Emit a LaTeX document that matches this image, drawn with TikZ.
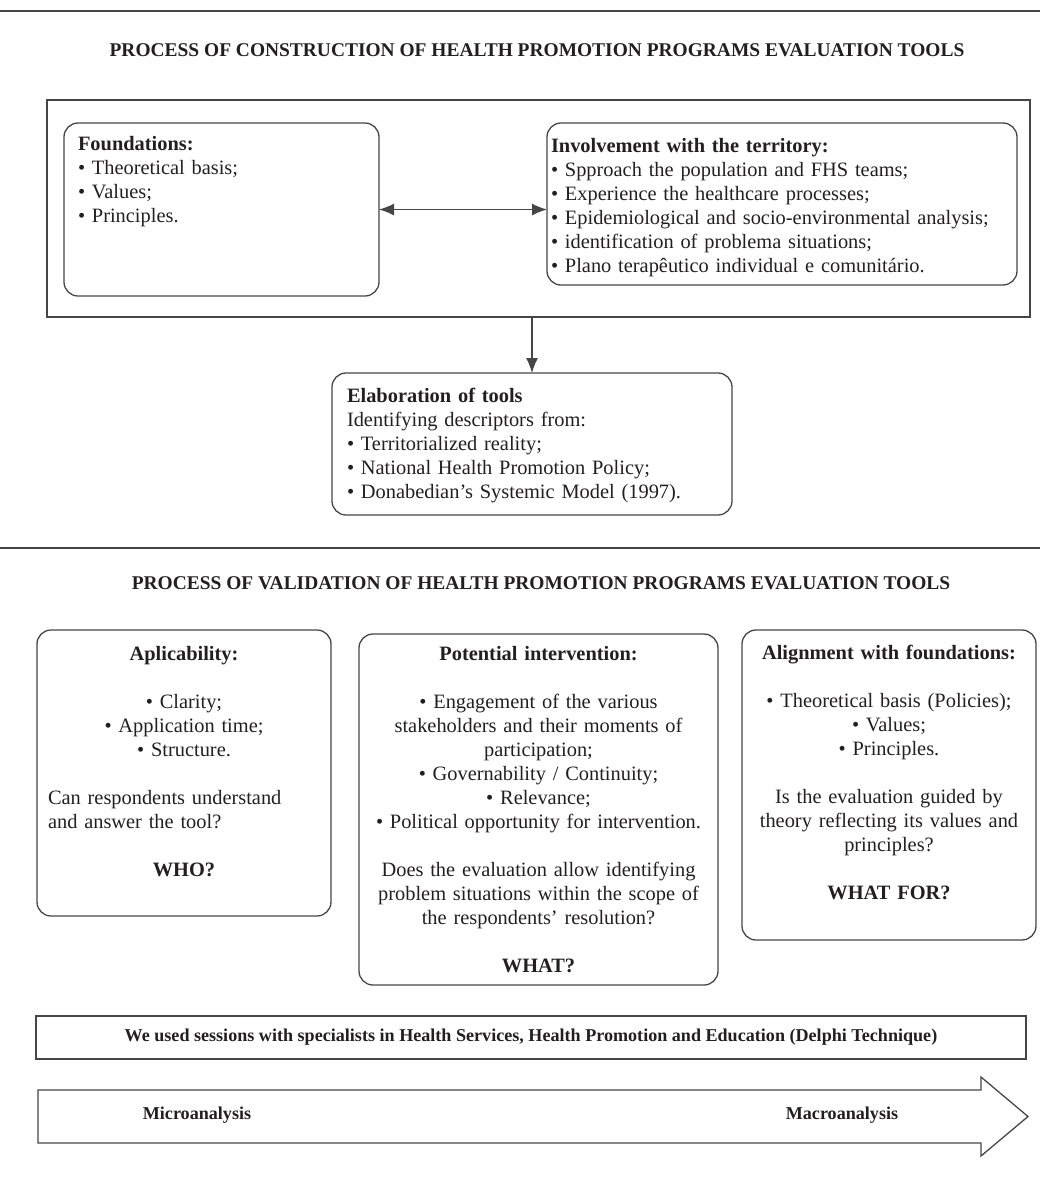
\documentclass[tikz,border=0pt]{standalone}
\usepackage{fontspec}
\setmainfont{Liberation Serif}
\usepackage{tikz}
\usetikzlibrary{arrows.meta}
\definecolor{ink}{RGB}{35,31,32}
\definecolor{rule}{RGB}{70,70,70}

\begin{document}
\begin{tikzpicture}[x=0.5pt, y=-0.5pt, >={Latex[length=7.5pt,width=6pt]},
	every node/.style={text=ink, font=\fontsize{10.2}{12}\selectfont},
	line/.style={draw=rule, line width=0.65pt},
	roundbox/.style={line, rounded corners=7pt, anchor=north west, outer sep=0pt, inner ysep=3.4pt},
	heading/.style={font=\fontsize{9.72}{11}\selectfont\bfseries},
	smallbold/.style={font=\fontsize{9.05}{10}\selectfont\bfseries}]
	\useasboundingbox (0,0) rectangle (1040,1180);
	
	\draw[line] (0,11) -- (1040,11);
	\node[heading] (title1) at (537,50) {PROCESS OF CONSTRUCTION OF HEALTH PROMOTION PROGRAMS EVALUATION TOOLS};
	
	\node[line, anchor=north west, minimum width=491.5pt, minimum height=108.5pt, inner sep=0pt, outer sep=0pt] (frame) at (47,100) {};
	\node[roundbox, align=left, text width=143.5pt, inner xsep=7pt, text height=10.5pt, text depth=69.2pt] (found) at (64,123) {\textbf{Foundations:}\\• Theoretical basis;\\• Values;\\• Principles.};
	\node[roundbox, align=left, text width=231pt, inner xsep=2pt, text height=11.5pt, text depth=62.7pt] (invol) at (547,123) {\textbf{Involvement with the territory:}\\• Spproach the population and FHS teams;\\• Experience the healthcare processes;\\• Epidemiological and socio-environmental analysis;\\• identification of problema situations;\\• Plano terapêutico individual e comunitário.};
	\node[roundbox, align=left, text width=185pt, inner xsep=7.5pt, text height=11.5pt, text depth=52.7pt] (elab) at (332,373) {\textbf{Elaboration of tools}\\Identifying descriptors from:\\• Territorialized reality;\\• National Health Promotion Policy;\\• Donabedian’s Systemic Model (1997).};
	
	\draw[<->, line] (found.east) -- (found.east -| invol.west);
	\draw[->, line] (elab.north |- frame.south) -- (elab.north);
	
	\draw[line] (0,548) -- (1040,548);
	\node[heading] (title2) at (541,583) {PROCESS OF VALIDATION OF HEALTH PROMOTION PROGRAMS EVALUATION TOOLS};
	
	\node[roundbox, align=center, text width=136pt, inner xsep=5.5pt, text height=12pt, text depth=124.2pt] (appl) at (37,630) {\textbf{Aplicability:}\\[12pt]• Clarity;\\• Application time;\\• Structure.\\[12pt]\makebox[136pt][l]{Can respondents understand}\\\makebox[136pt][l]{and answer the tool?}\\[12pt]\textbf{WHO?}};
	\node[roundbox, align=center, text width=171.5pt, inner xsep=4pt, text height=10pt, text depth=158.7pt] (poten) at (359,634) {\textbf{Potential intervention:}\\[12pt]• Engagement of the various\\stakeholders and their moments of\\participation;\\• Governability / Continuity;\\• Relevance;\\• Political opportunity for intervention.\\[12pt]Does the evaluation allow identifying\\problem situations within the scope of\\the respondents’ resolution?\\[12pt]\textbf{WHAT?}};
	\node[roundbox, align=center, text width=137pt, inner xsep=5pt, text height=11.5pt, text depth=136.7pt] (align) at (742,630) {\textbf{Alignment with foundations:}\\[12pt]• Theoretical basis (Policies);\\• Values;\\• Principles.\\[12pt]Is the evaluation guided by\\theory reflecting its values and\\principles?\\[12pt]\textbf{WHAT FOR?}};
	
	\node[line, smallbold, minimum width=495pt, minimum height=21.5pt, inner sep=0pt] (delphi) at (531,1037.5) {We used sessions with specialists in Health Services, Health Promotion and Education (Delphi Technique)};
	
	\draw[line] (38,1090) -- (981,1090) -- (981,1077) -- (1028,1116.5) -- (981,1156) -- (981,1143) -- (38,1143) -- cycle;
	\node[smallbold] (micro) at (197,1115) {Microanalysis};
	\node[smallbold] (macro) at (842,1115) {Macroanalysis};
\end{tikzpicture}
\end{document}
